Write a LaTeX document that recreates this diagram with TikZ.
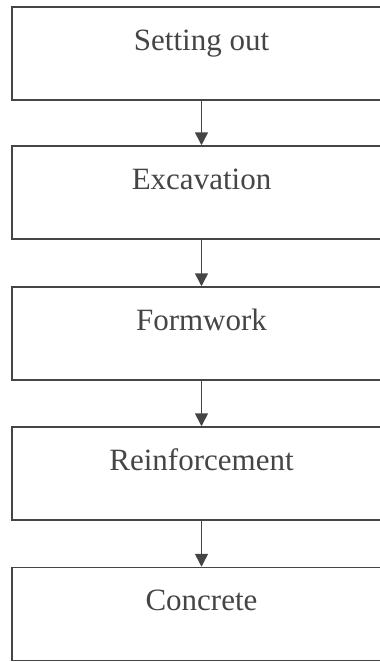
\documentclass[tikz,border=0pt]{standalone}
\usepackage{fontspec}
\setmainfont{Liberation Serif}
\usetikzlibrary{arrows.meta}
\definecolor{ink}{HTML}{454545}
\begin{document}
\begin{tikzpicture}[x=1pt,y=-1pt,
  stepbox/.style={draw=ink, line width=1.5pt, rectangle, inner sep=0pt,
    minimum width=379pt, text height=43pt, text depth=50pt,
    font=\fontsize{31}{37}\selectfont, text=ink},
  flow/.style={draw=ink, line width=1.6pt, -{Triangle[length=13pt,width=13pt]}}]
\useasboundingbox (0,0) rectangle (380,662);
\node[stepbox] (b1) at (201.5,53.5) {Setting out};
\node[stepbox] (b2) at (201.5,192.5) {Excavation};
\node[stepbox] (b3) at (201.5,333.5) {Formwork};
\node[stepbox] (b4) at (201.5,473.5) {Reinforcement};
\node[stepbox] (b5) at (201.5,614) {Concrete};
\draw[flow] (b1.south) -- (b2.north);
\draw[flow] (b2.south) -- (b3.north);
\draw[flow] (b3.south) -- (b4.north);
\draw[flow] (b4.south) -- (b5.north);
\end{tikzpicture}
\end{document}
